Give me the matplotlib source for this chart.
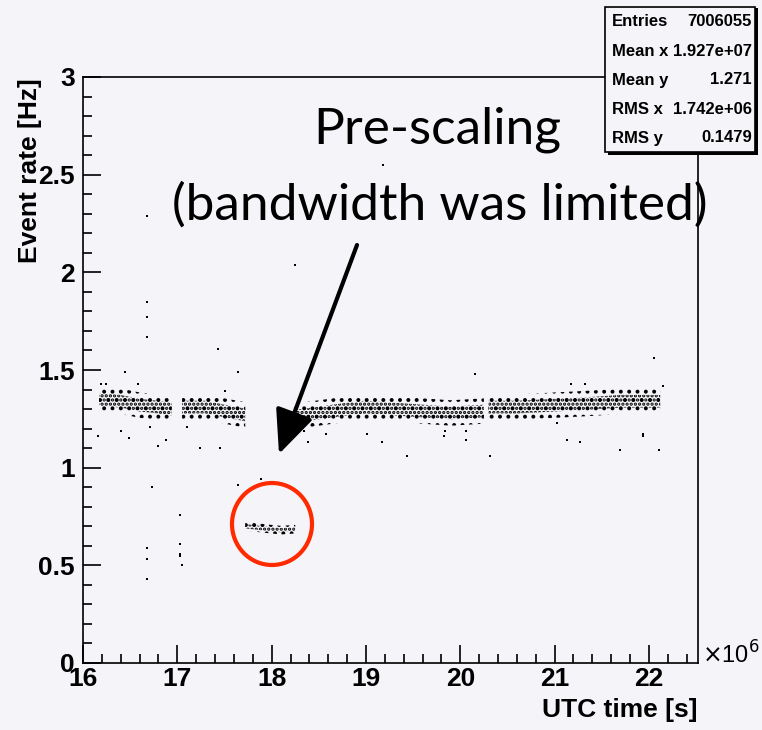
import numpy as np
import matplotlib
matplotlib.use("Agg")
import matplotlib.pyplot as plt
from matplotlib.patches import Rectangle, Ellipse
from matplotlib.ticker import MultipleLocator

# ---- data (x in units of 1e6 s) ----
# dense bands: sample positions, band centre, half width
seg1_x = [16.17, 16.4, 16.6, 16.8, 16.94]
seg1_c = [1.35, 1.34, 1.32, 1.31, 1.30]
seg2_x = [17.05, 17.3, 17.5, 17.72]
seg2_c = [1.31, 1.31, 1.29, 1.27]
seg3_x = [18.2, 18.5, 18.8, 19.0, 19.3, 19.6, 19.9, 20.25]
seg3_c = [1.26, 1.28, 1.30, 1.31, 1.30, 1.29, 1.28, 1.29]
seg4_x = [20.3, 20.6, 21.0, 21.4, 21.7, 22.12]
seg4_c = [1.31, 1.31, 1.32, 1.33, 1.34, 1.34]
pres_x = [17.72, 17.9, 18.1, 18.25]
pres_c = [0.70, 0.69, 0.68, 0.685]
band_w = 0.065
pres_w = 0.022

# isolated points
out_x = [16.675, 18.25, 16.675, 16.675, 16.675, 17.43, 16.44, 17.64, 16.19, 16.24,
         16.58, 16.16, 16.40, 16.49, 16.79, 16.88, 17.24, 17.45, 16.73, 17.64,
         17.89, 16.71, 17.10, 17.51, 18.34, 18.39, 18.58, 19.01, 17.03, 17.03,
         17.03, 17.03, 17.05, 16.675, 16.675, 16.675, 20.16, 21.17, 21.32, 19.17,
         19.43, 19.83, 19.84, 20.06, 20.06, 20.32, 21.13, 21.27, 21.69, 22.11,
         21.94, 21.94, 21.02, 22.15, 19.18, 22.05]
out_y = [2.287, 2.04, 1.85, 1.77, 1.67, 1.61, 1.49, 1.49, 1.43, 1.43,
         1.43, 1.16, 1.19, 1.15, 1.11, 1.14, 1.10, 1.10, 0.90, 0.91,
         0.94, 1.21, 1.21, 1.39, 1.19, 1.13, 1.17, 1.17, 0.76, 0.61,
         0.56, 0.55, 0.50, 0.59, 0.53, 0.43, 1.48, 1.43, 1.43, 1.13,
         1.06, 1.16, 1.19, 1.19, 1.14, 1.06, 1.14, 1.13, 1.09, 1.09,
         1.17, 1.16, 1.23, 1.42, 2.55, 1.56]

stats_names = ["Entries", "Mean x", "Mean y", "RMS x", "RMS y"]
stats_vals = ["7006055", "1.927e+07", "1.271", "1.742e+06", "0.1479"]

bg = "#f5f4f8"
plt.rcParams["hatch.linewidth"] = 1.6
fig = plt.figure(figsize=(7.62, 7.30), dpi=100, facecolor=bg)
W, H = 762.0, 730.0
ax = fig.add_axes([83 / W, 1 - 663 / H, 615 / W, 586 / H], facecolor=bg)

segs = [(seg1_x, seg1_c, band_w), (seg2_x, seg2_c, band_w), (seg3_x, seg3_c, band_w),
        (seg4_x, seg4_c, band_w), (pres_x, pres_c, pres_w)]
for sx, sc, w in segs:
    sx = np.array(sx)
    sc = np.array(sc)
    ax.fill_between(sx, sc - w, sc + w, facecolor="none", edgecolor="black",
                    hatch="..", linewidth=0)
    ax.fill_between(sx, sc - w * 0.5, sc + w * 0.5, facecolor="none",
                    edgecolor="black", hatch="....", linewidth=0)

ax.plot(out_x, out_y, "s", color="black", ms=1.8, mew=0)

ax.set_xlim(16, 22.52)
ax.set_ylim(0, 3)
ax.xaxis.set_major_locator(MultipleLocator(1))
ax.xaxis.set_minor_locator(MultipleLocator(0.2))
ax.yaxis.set_major_locator(MultipleLocator(0.5))
ax.yaxis.set_minor_locator(MultipleLocator(0.1))
ax.tick_params(which="both", direction="in", top=False, right=False)
ax.tick_params(which="major", length=13, width=1.2)
ax.tick_params(which="minor", length=6.5, width=1.2)
for s in ax.spines.values():
    s.set_linewidth(1.2)
ax.set_xticks(np.arange(16, 23, 1))
ax.set_xticklabels([str(v) for v in range(16, 23)])
ax.set_yticks([0, 0.5, 1, 1.5, 2, 2.5, 3])
ax.set_yticklabels(["0", "0.5", "1", "1.5", "2", "2.5", "3"])
for lab in ax.get_xticklabels() + ax.get_yticklabels():
    lab.set_fontfamily("Liberation Sans")
    lab.set_fontweight("bold")
    lab.set_fontsize(19)
ax.tick_params(axis="x", pad=3)
ax.tick_params(axis="y", pad=6)

fig.text(702 / W, 1 - 655 / H, r"$\times$10$^{6}$", fontsize=17,
         family="Liberation Sans", va="center", ha="left")
fig.text(698 / W, 1 - 710 / H, "UTC time [s]", fontsize=19, family="Liberation Sans",
         fontweight="bold", ha="right", va="center")
fig.text(30 / W, 1 - 78 / H, "Event rate [Hz]", fontsize=19, family="Liberation Sans",
         fontweight="bold", ha="center", va="top", rotation=90)

# stats box
fig.patches.append(Rectangle((608 / W, 1 - 155 / H), 150 / W, 147 / H,
                             transform=fig.transFigure, facecolor="black",
                             edgecolor="none", zorder=5))
fig.patches.append(Rectangle((605 / W, 1 - 152 / H), 150 / W, 145 / H,
                             transform=fig.transFigure, facecolor=bg,
                             edgecolor="black", lw=1.2, zorder=6))
for i, (n, v) in enumerate(zip(stats_names, stats_vals)):
    yy = 1 - (22 + 29 * i) / H
    fig.text(612 / W, yy, n, fontsize=12, family="Liberation Sans", fontweight="bold",
             va="center", ha="left", zorder=7)
    fig.text(752 / W, yy, v, fontsize=12, family="Liberation Sans", fontweight="bold",
             va="center", ha="right", zorder=7)

# annotation
fig.text(437 / W, 1 - 130 / H, "Pre-scaling", fontsize=37, family="Lato",
         ha="center", va="center")
fig.text(440 / W, 1 - 205 / H, "(bandwidth was limited)", fontsize=37, family="Lato",
         ha="center", va="center")
fig.add_artist(plt.Annotation("", xy=(279 / W, 1 - 454 / H), xytext=(357 / W, 1 - 245 / H),
                              xycoords="figure fraction", textcoords="figure fraction",
                              arrowprops=dict(arrowstyle="-|>,head_length=1.35,head_width=0.6",
                                              lw=3, color="black", mutation_scale=20,
                                              shrinkA=0, shrinkB=0)))
fig.patches.append(Ellipse((272 / W, 1 - 524 / H), 80 / W, 82 / H, transform=fig.transFigure,
                           fill=False, edgecolor="#ff2a00", lw=3, zorder=5))

fig.savefig("out.png", dpi=100, facecolor=bg)
